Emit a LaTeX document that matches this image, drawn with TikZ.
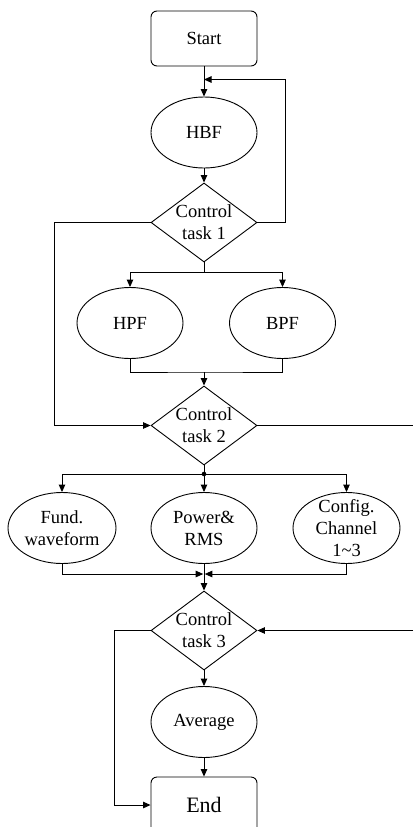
\documentclass[tikz,border=0pt]{standalone}
\usepackage{fontspec}
\setmainfont{Liberation Serif}
\usetikzlibrary{shapes.geometric,arrows.meta}
\begin{document}
\begin{tikzpicture}[x=1pt,y=-1pt,line width=0.9pt,
  >={Triangle[length=7.5pt,width=6.5pt]},
  txt/.style={font=\fontsize{18.5}{22}\selectfont,align=center,inner sep=0pt},
  base/.style={draw,inner sep=0pt,label={[txt]center:#1}},
  term/.style={base=#1,rectangle,rounded corners=6pt,minimum width=106pt,minimum height=55pt},
  oval/.style={base=#1,ellipse,minimum width=106pt,minimum height=71pt},
  dec/.style={base=#1,diamond,minimum width=106pt,minimum height=79pt}]
\useasboundingbox (0,0) rectangle (413,827);
\clip (0,0) rectangle (413,827);
% nodes
\node[term={Start}] (start) at (204,38.5) {};
\node[oval={HBF}] (hbf) at (204,132.5) {};
\node[dec={Control\\task 1}] (ct1) at (204,222.5) {};
\node[oval={HPF}] (hpf) at (130,323) {};
\node[oval={BPF}] (bpf) at (282.5,323) {};
\node[dec={Control\\task 2}] (ct2) at (204,425.5) {};
\node[oval={Fund.\\waveform},minimum width=108pt] (fund) at (62,528) {};
\node[oval={Power\&\\RMS}] (pow) at (204,528) {};
\node[oval={Config.\\Channel\\1\textasciitilde3},minimum width=107pt] (cfg) at (346.5,528) {};
\node[dec={Control\\task 3}] (ct3) at (204,630.5) {};
\node[oval={Average}] (avg) at (204,722) {};
\node[draw,rectangle,rounded corners=6pt,minimum width=106pt,minimum height=56pt,inner sep=0pt,
  label={[txt,font=\fontsize{22}{26}\selectfont]center:End}] (end) at (204,805) {};
% helper coordinates
\coordinate (loopin) at (204,79.5);
\coordinate (s1) at (204,272);
\coordinate (m1) at (204,372);
\coordinate (j2) at (204,474);
\coordinate (m2) at (204,574);
\coordinate (r2) at (413,425.5);
\coordinate (r3) at (413,630.5);
% connectors
\draw[->] (start) -- (hbf);
\draw[->] (ct1.east) -- ++(28,0) |- (loopin);
\draw[->] (hbf) -- (ct1);
\draw[->] (ct1.west) -- ++(-96,0) |- (ct2.west);
\draw (ct1.south) -- (s1);
\draw[->] (s1) -| (hpf.north);
\draw[->] (s1) -| (bpf.north);
\draw (hpf.south) |- (m1) -| (bpf.south);
\draw[->] (m1) -- (ct2.north);
\draw (ct2.east) -- (r2);
\draw (ct2.south) -- (j2);
\fill (j2) circle (2.3pt);
\draw[->] (j2) -| (fund.north);
\draw[->] (j2) -- (pow.north);
\draw[->] (j2) -| (cfg.north);
\draw[->] (fund.south) |- ([xshift=-0.8pt]m2);
\draw[->] (cfg.south) |- ([xshift=0.8pt]m2);
\draw[->] (pow.south) -- (ct3.north);
\draw[->] (r3) -- (ct3.east);
\draw[->] (ct3.west) -- ++(-36,0) |- (end.west);
\draw[->] (ct3) -- (avg);
\draw[->] (avg) -- (end);
\end{tikzpicture}
\end{document}
